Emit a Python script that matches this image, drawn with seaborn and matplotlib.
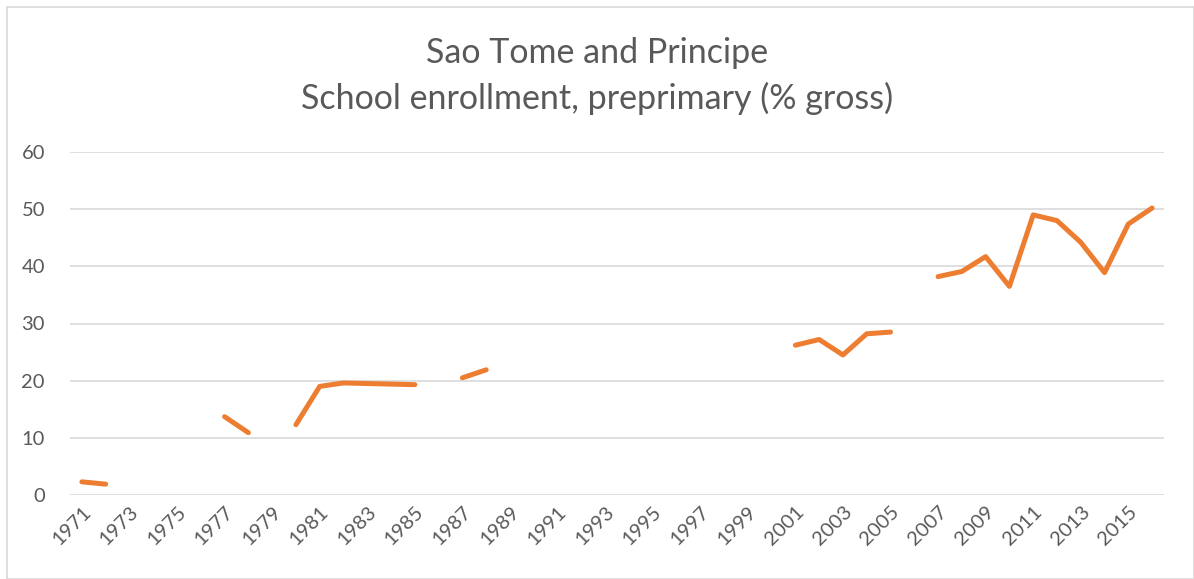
import numpy as np
import pandas as pd
import matplotlib.pyplot as plt
import seaborn as sns
from matplotlib.patches import Rectangle

# ─────────────────────────────────────────────
# DATA (NaN = no data)
# ─────────────────────────────────────────────
years = list(range(1971, 2017))
enrollment = [
    2.3, 1.9, np.nan, np.nan, np.nan, np.nan, 13.7, 10.9, np.nan, 12.3,
    19.0, 19.6, 19.5, 19.4, 19.3, np.nan, 20.5, 21.9, np.nan, np.nan,
    np.nan, np.nan, np.nan, np.nan, np.nan, np.nan, np.nan, np.nan, np.nan, np.nan,
    26.2, 27.2, 24.5, 28.2, 28.5, np.nan, 38.2, 39.1, 41.7, 36.5,
    49.0, 48.0, 44.2, 38.9, 47.4, 50.2,
]
tick_years = [str(y) for y in years[::2]]

title = "Sao Tome and Principe\nSchool enrollment, preprimary (% gross)"
line_color = "#ED7D31"
text_color = "#595959"
grid_color = "#D9D9D9"

# ─────────────────────────────────────────────
# build frame with one unit per unbroken run
# ─────────────────────────────────────────────
df = pd.DataFrame({"year": years, "value": enrollment})
df["pos"] = np.arange(len(df))
df["segment"] = df["value"].isna().cumsum()
df = df.dropna(subset=["value"])

sns.set_theme(style="white")
plt.rcParams["font.family"] = ["Lato", "DejaVu Sans"]

fig = plt.figure(figsize=(11.94, 5.79), dpi=100)
ax = fig.add_axes([70 / 1194, 1 - 495 / 579, 1094 / 1194, 343 / 579])

sns.lineplot(data=df, x="pos", y="value", units="segment", estimator=None,
             color=line_color, linewidth=3.6, ax=ax, legend=False)

ax.set_xlim(-0.5, len(years) - 0.5)
ax.set_ylim(0, 60)
ax.set_yticks(range(0, 61, 10))
ax.set_xticks(range(0, len(years), 2))
ax.set_xticklabels(tick_years, rotation=45, ha="right", rotation_mode="anchor")
ax.tick_params(axis="both", length=0, labelsize=14.5, colors=text_color)
ax.tick_params(axis="y", pad=18)
ax.tick_params(axis="x", pad=6)
ax.grid(axis="y", color=grid_color, linewidth=1.2)
ax.set_axisbelow(True)
for s in ax.spines.values():
    s.set_visible(False)
ax.set_xlabel("")
ax.set_ylabel("")

fig.text(0.5, 1 - 76 / 579, title, ha="center", va="center", fontsize=24.5,
         color=text_color, linespacing=1.45)

# outer chart frame
fig.patches.append(Rectangle((7 / 1194, 0), 1 - 7 / 1194, 1 - 7 / 579,
                             transform=fig.transFigure, fill=False,
                             edgecolor=grid_color, linewidth=1.2))

fig.savefig("out.png", dpi=100)
